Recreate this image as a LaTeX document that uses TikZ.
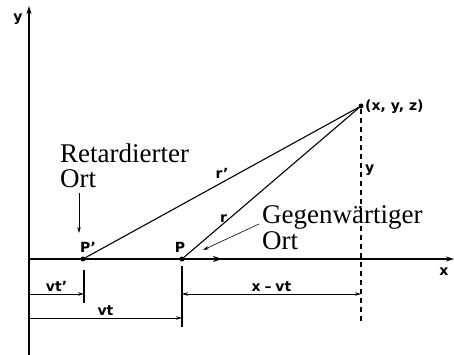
\documentclass[tikz,border=0pt]{standalone}
\usepackage{fontspec}
\setmainfont{Liberation Serif}
\setsansfont{DejaVu Sans}
\usetikzlibrary{arrows.meta,positioning}

\tikzset{
  pfeil/.tip={Stealth[length=6pt,width=3.5pt]},
  achse/.style={line width=1.4pt,-{Stealth[length=8pt,width=5pt]}},
  mass/.style={line width=0.8pt,-pfeil},
  zeiger/.style={line width=0.6pt,-pfeil},
  strich/.style={line width=1.1pt},
  punkt/.style={circle,fill,inner sep=0pt,minimum size=5pt},
  marke/.style={font=\sffamily\bfseries\fontsize{14}{14}\selectfont,inner sep=1pt},
  ort/.style={font=\fontsize{27}{25.5}\selectfont,align=left,inner sep=0pt},
}

\begin{document}
\begin{tikzpicture}[x=1pt,y=-1pt]
\useasboundingbox (0,0) rectangle (454,355);

% Achsen
	\coordinate (yu) at (29,355);
	\coordinate (yo) at (29,6);
	\coordinate (O) at (29,259);
	\coordinate (xr) at (454,259);
	\draw[achse] (yu) -- (yo);
	\draw[achse] (O) -- (xr);
	\node[marke] (ylab) at (18,19) {y};
	\node[marke] (xlab) at (444,272) {x};

% Orte
	\node[punkt] (Pr) at (83,259) {};
	\node[punkt] (P) at (182,259) {};
	\node[punkt] (Q) at (361,106) {};
	\node[marke] (Prlab) at (88,247) {P'};
	\node[marke] (Plab) at (180,247) {P};
	\node[marke,anchor=west] (Qlab) at (364,107) {(x, y, z)};

	\draw[line width=1.1pt] (Pr) -- (Q) node[marke,pos=0.5,above=2pt] (rrlab) {r'};
	\draw[line width=1.1pt] (P) -- (Q) node[marke,pos=0.26,left=1pt] (rlab) {r};

	\coordinate (v) at (222,259);
	\draw[line width=1.9pt,-{Stealth[length=9pt,width=6pt]}] (P) -- (v);

	\coordinate (Qu) at (361,324);
	\draw[line width=1.2pt,dash pattern=on 5pt off 4pt] (Q) -- (Qu);
	\node[marke,anchor=west] (yhlab) at (364,170) {y};

% Retardierter und gegenwaertiger Ort
	\node[ort,anchor=base west] (ret) at (60,188) {Retardierter\\Ort};
	\coordinate (ra) at (79,193);
	\coordinate (rb) at (79,233);
	\draw[zeiger] (ra) -- (rb);

	\node[ort,anchor=base west] (geg) at (262,249) {Gegenwärtiger\\Ort};
	\coordinate (ga) at (259,224);
	\coordinate (gb) at (203,250);
	\draw[zeiger] (ga) -- (gb);

% Bemassung
	\coordinate (t1o) at (84,270);
	\coordinate (t1u) at (84,303);
	\coordinate (t2o) at (182,266);
	\coordinate (t2u) at (182,327);
	\draw[strich] (t1o) -- (t1u);
	\draw[strich] (t2o) -- (t2u);

	\coordinate (a1) at (29,294);
	\coordinate (a2) at (29,318);
	\draw[mass] (a1) -- (a1 -| t1o) node[marke,midway,above=1pt] (vtrlab) {vt'};
	\draw[mass] (a2) -- (a2 -| t2o) node[marke,midway,above=1pt] (vtlab) {vt};
	\draw[mass,pfeil-pfeil] (a1 -| t2o) -- (a1 -| Q) node[marke,midway,above=1pt] (xvtlab) {x\;–\;vt};
\end{tikzpicture}
\end{document}
